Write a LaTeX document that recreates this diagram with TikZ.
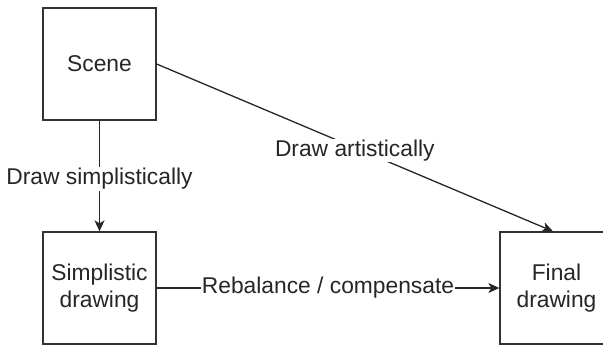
\documentclass[tikz,border=0pt]{standalone}
\usepackage{fontspec}
\setmainfont{Liberation Sans}
\usetikzlibrary{arrows.meta}

\begin{document}
\begin{tikzpicture}[x=1pt, y=-1pt,
  box/.style={draw=black!80, line width=1.3pt, minimum width=113pt, minimum height=112pt, align=center, text=black!85},
  flow/.style={draw=black!85, line width=1.3pt, -{Stealth[length=11pt, width=10pt, inset=3pt]}},
  lbl/.style={fill=white, inner sep=1pt, text=black!85}]
\useasboundingbox (0, 0) rectangle (603, 345);
\fontsize{22.8}{27}\selectfont

\node[box] (scene) at (99.5, 64) {Scene};
\node[box] (simple) at (99.5, 288) {Simplistic\\drawing};
\node[box] (final) at (556.5, 288) {Final\\drawing};

\draw[flow] (scene) -- node[lbl, yshift=-3pt] {Draw simplistically} (simple);
\draw[flow] (scene.east) -- node[lbl, yshift=-3pt] {Draw artistically} ([xshift=-3.5pt]final.north);
\draw[flow] (simple) -- node[lbl] {Rebalance / compensate} (final);

\end{tikzpicture}
\end{document}
